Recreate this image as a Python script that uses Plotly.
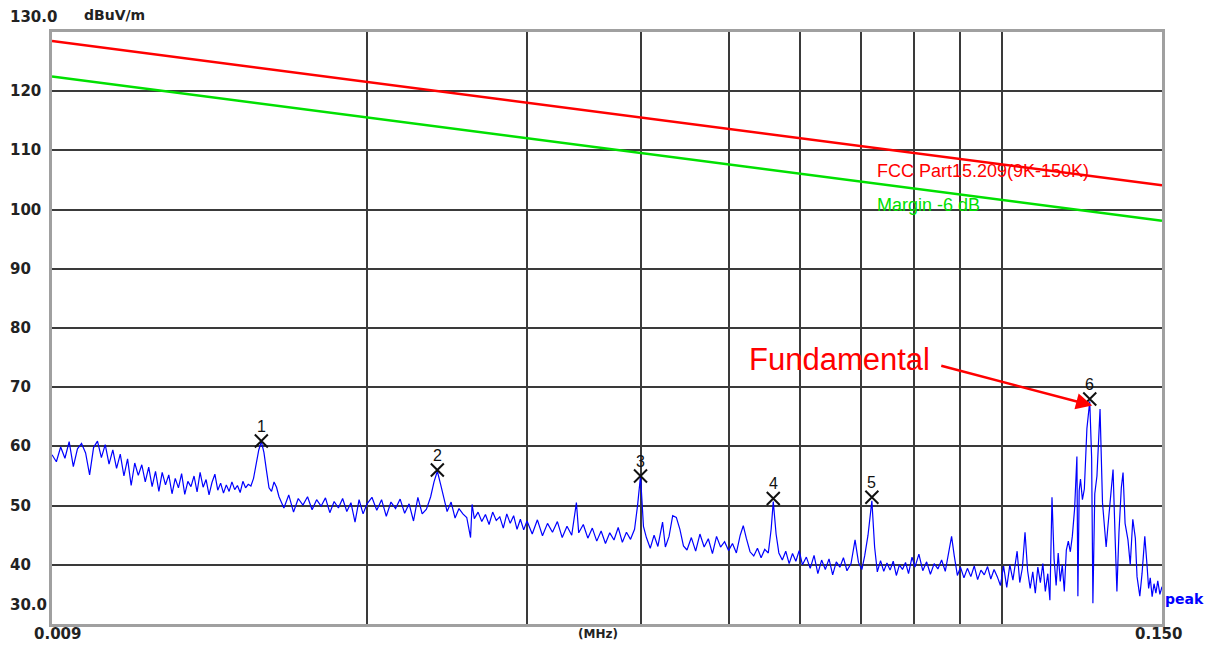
import math
import plotly.graph_objects as go

# ---------------- data ----------------
# limit lines (dBuV/m) at band edges (kHz)
limit_khz = [9.0, 150.0]
fcc_limit = [128.5, 104.1]
margin_limit = [122.5, 98.1]

# peak scan, (kHz, dBuV/m)
scan_low = [(9.0,58.6),(9.1,57.4),(9.2,59.9),(9.3,58.0),(9.4,60.8),(9.5,56.6),(9.6,59.6),(9.7,60.5),(9.8,58.9),(9.9,55.2),
            (10.0,59.8),(10.1,60.9),(10.2,58.1),(10.3,60.3),(10.4,57.0),(10.5,59.4),(10.6,56.3),(10.7,58.7),(10.8,55.0),(10.9,57.9),
            (11.0,53.4),(11.1,57.2),(11.2,55.1),(11.3,56.9),(11.4,54.0),(11.5,56.5),(11.6,53.2),(11.7,55.8),(11.8,52.4),(11.9,55.6),
            (12.0,53.5),(12.1,55.2),(12.2,52.0),(12.3,54.6),(12.4,53.0),(12.5,55.4),(12.6,51.9),(12.7,54.1),(12.8,53.2),(12.9,55.0),
            (13.0,52.3),(13.1,55.6),(13.2,53.1),(13.3,54.4),(13.4,51.8),(13.5,53.9),(13.6,55.3),(13.7,52.6),(13.8,53.8),(13.9,52.1),
            (14.0,53.5),(14.1,52.4),(14.2,54.0),(14.3,52.7),(14.4,53.4),(14.5,52.2),(14.6,54.1),(14.7,53.0),(14.8,53.6),(14.9,53.3),
            (15.0,54.6),(15.1,56.8),(15.2,59.4),(15.3,60.8),(15.4,59.0),(15.5,55.9),(15.6,53.0),(15.7,52.4),(15.8,54.0),(15.9,53.1),
            (16.0,51.5),(16.2,49.6),(16.4,51.8),(16.6,48.9),(16.8,51.2),(17.0,50.1),(17.2,51.5),(17.4,49.3),(17.6,51.0),(17.8,49.9),
            (18.0,51.3),(18.2,48.8),(18.4,50.7),(18.6,49.6),(18.8,51.2),(19.0,49.0),(19.2,50.5),(19.4,47.2),(19.6,51.0),(19.8,48.6)]
scan_mid = [(20.0,50.3),(20.25,51.4),(20.5,49.2),(20.75,51.0),(21.0,48.2),(21.25,50.6),(21.5,49.5),(21.75,51.1),(22.0,48.7),
            (22.25,50.3),(22.5,47.4),(22.75,51.4),(23.0,48.6),(23.25,49.4),(23.5,51.5),(23.7,54.0),(23.9,55.8),(24.1,53.6),
            (24.3,51.2),(24.5,49.0),(24.75,50.6),(25.0,47.9),(25.25,49.5),(25.5,48.6),(25.75,48.0),(26.0,44.6),(26.1,50.2),
            (26.25,47.8),(26.5,48.9),(26.75,47.3),(27.0,48.5),(27.25,46.8),(27.5,48.9),(27.75,47.5),(28.0,48.1),(28.25,46.2),
            (28.5,48.6),(28.75,47.0),(29.0,48.3),(29.25,46.0),(29.5,47.7),(29.75,45.9),(30.0,47.4),(30.4,45.2),(30.8,47.6),
            (31.2,44.9),(31.6,47.0),(32.0,45.5),(32.4,47.3),(32.8,44.6),(33.2,46.5),(33.6,45.0),(34.0,50.5),(34.2,45.4),
            (34.6,46.8),(35.0,44.5),(35.4,46.2),(35.8,44.0),(36.2,45.7),(36.6,43.6),(37.0,45.4),(37.4,44.2),(37.8,46.3),
            (38.2,43.8),(38.6,45.5),(39.0,44.3),(39.4,46.0),(39.7,50.0)]
scan_high = [(40.0,55.0),(40.3,46.5),(40.6,44.6),(41.0,42.8),(41.4,45.0),(41.8,43.1),(42.3,47.2),(42.6,43.0),(43.0,44.8),
             (43.4,48.3),(43.8,48.0),(44.2,46.0),(44.6,43.2),(45.0,42.5),(45.5,44.6),(46.0,42.3),(46.5,45.2),(47.0,43.0),
             (47.5,44.4),(48.0,41.9),(48.5,44.8),(49.0,43.0),(49.5,43.9),(50.0,42.4),(50.5,43.6),(51.0,42.0),(51.5,45.0),
             (51.9,46.6),(52.3,44.5),(52.8,42.2),(53.3,41.5),(53.8,42.8),(54.3,41.2),(54.8,42.6),(55.3,42.0),(55.7,46.0),
             (56.0,50.7),(56.4,45.2),(56.8,42.0),(57.3,40.8),(57.8,42.3),(58.3,40.2),(58.8,41.9),(59.3,40.6),(59.8,42.4),
             (60.3,40.0),(60.9,41.3),(61.5,39.4),(62.1,41.6),(62.7,38.5),(63.3,40.8),(63.9,39.2),(64.5,41.0),(65.1,38.3),
             (65.7,40.5),(66.3,39.6),(66.9,41.2),(67.5,39.0),(68.2,40.2),(68.9,44.2),(69.5,40.4),(70.1,39.2),(70.6,41.5),
             (71.2,45.0),(71.9,50.8),(72.4,43.0),(72.9,38.8),(73.5,40.7),(74.1,38.9),(74.7,40.3),(75.3,39.1),(75.9,40.6),
             (76.5,38.2),(77.1,40.0),(77.7,39.2),(78.3,40.4),(78.9,38.5),(79.6,41.3)]
scan_top = [(80.2,39.6),(81.0,41.8),(81.8,39.0),(82.6,40.5),(83.4,38.4),(84.2,40.2),(85.0,39.3),(85.8,40.8),(86.6,38.9),
            (87.3,42.0),(88.0,44.8),(88.6,41.5),(89.3,38.2),(90.0,39.6),(90.8,37.8),(91.6,39.4),(92.4,38.0),(93.2,39.8),
            (94.0,37.5),(94.8,39.1),(95.6,38.3),(96.4,39.7),(97.2,37.6),(98.0,39.2),(98.8,38.0),(99.6,36.5),(100.4,39.8),
            (101.2,36.2),(102.0,40.0),(102.8,37.4),(103.9,42.3),(104.6,37.0),(105.3,39.5),(106.0,45.5),(106.7,39.0),
            (107.4,36.0),(108.1,38.8),(108.8,35.2),(109.5,39.6),(110.2,37.0),(110.9,40.2),(111.6,35.5),(112.3,38.5),
            (112.9,34.0),(113.5,51.4),(114.1,41.0),(114.7,36.5),(115.3,42.0),(115.9,37.2),(116.5,40.0),(117.1,35.5),
            (117.7,42.5),(118.3,44.0),(118.9,42.2),(119.5,44.8),(120.2,49.5),(120.9,58.3),(121.2,34.7),(121.6,52.5),
            (122.0,54.5),(122.6,51.0),(123.2,52.8),(124.0,63.0),(124.9,67.6),(125.5,58.0),(125.9,33.5),(126.5,52.0),
            (127.2,55.0),(128.2,66.3),(129.0,50.5),(129.6,47.0),(130.2,43.0),(130.7,46.0),(131.5,50.0),(132.5,56.1),
            (133.2,44.5),(133.8,35.5),(134.5,45.5),(135.3,53.0),(135.9,55.6),(136.6,47.0),(137.6,44.2),(138.4,40.0),
            (139.3,47.7),(140.2,44.5),(140.8,38.0),(141.8,34.7),(142.6,38.5),(143.6,44.8),(144.4,40.0),(145.0,36.0),
            (145.6,37.8),(146.3,34.6),(147.0,36.8),(147.7,35.2),(148.4,37.3),(149.2,35.0),(150.0,36.3)]

# marked peaks
peak_labels = ["1", "2", "3", "4", "5", "6"]
peak_khz = [15.3, 23.9, 40.0, 56.0, 71.9, 124.9]
peak_dbuv = [60.9, 56.0, 55.0, 51.2, 51.4, 68.0]

# axis ticks
y_tick_vals = [40, 50, 60, 70, 80, 90, 100, 110, 120]
y_tick_text = ["40", "50", "60", "70", "80", "90", "100", "110", "120"]
x_grid_mhz = [0.02, 0.03, 0.04, 0.05, 0.06, 0.07, 0.08, 0.09, 0.10]
x_range_mhz = [0.009, 0.150]
y_range = [30, 130]

# ---------------- figure ----------------
scan = scan_low + scan_mid + scan_high + scan_top
scan_mhz = [f / 1000 for f, _ in scan]
scan_db = [v for _, v in scan]

fig = go.Figure()
fig.add_trace(go.Scatter(x=[f / 1000 for f in limit_khz], y=fcc_limit, mode="lines",
                         line=dict(color="#ff0000", width=2.5), hoverinfo="skip"))
fig.add_trace(go.Scatter(x=[f / 1000 for f in limit_khz], y=margin_limit, mode="lines",
                         line=dict(color="#00e000", width=2.5), hoverinfo="skip"))
fig.add_trace(go.Scatter(x=scan_mhz, y=scan_db, mode="lines",
                         line=dict(color="#0000ff", width=1.2)))
fig.add_trace(go.Scatter(x=[f / 1000 for f in peak_khz], y=peak_dbuv, mode="markers",
                         marker=dict(symbol="x-thin", size=13, line=dict(color="#111111", width=2))))

grid_col = "#3a3a3a"
frame_col = "#a0a0a0"
fig.update_xaxes(type="log", range=[math.log10(x_range_mhz[0]), math.log10(x_range_mhz[1])],
                 tickvals=x_grid_mhz, showticklabels=False, ticks="",
                 showgrid=True, gridcolor=grid_col, gridwidth=1.5, zeroline=False,
                 showline=True, linecolor=frame_col, linewidth=3, mirror=True)
fig.update_yaxes(range=y_range, tickvals=y_tick_vals, showticklabels=False, ticks="",
                 showgrid=True, gridcolor=grid_col, gridwidth=1.5, zeroline=False,
                 showline=True, linecolor=frame_col, linewidth=3, mirror=True)

lab_font = dict(family="DejaVu Sans", size=15, color="#222222")
ann = []
for lab, f, v in zip(peak_labels, peak_khz, peak_dbuv):
    ann.append(dict(x=math.log10(f / 1000), xref="x", y=v, yref="y", text=lab, showarrow=False,
                    xanchor="center", yanchor="middle", yshift=15,
                    font=dict(family="Liberation Sans, Arial", size=16, color="#111111")))
for v, t in zip(y_tick_vals, y_tick_text):
    ann.append(dict(x=-0.0395, xref="paper", y=v, yref="y", text="<b>%s</b>" % t, showarrow=False,
                    xanchor="left", yanchor="middle", font=lab_font))
ann.append(dict(x=-0.0395, xref="paper", y=1.0253, yref="paper", text="<b>%.1f</b>" % y_range[1],
                showarrow=False, xanchor="left", yanchor="middle", font=lab_font))
ann.append(dict(x=-0.0395, xref="paper", y=0.032, yref="paper", text="<b>%.1f</b>" % y_range[0],
                showarrow=False, xanchor="left", yanchor="middle", font=lab_font))
ann.append(dict(x=0.027, xref="paper", y=1.029, yref="paper", text="<b>dBuV/m</b>",
                showarrow=False, xanchor="left", yanchor="middle",
                font=dict(family="DejaVu Sans", size=14, color="#222222")))
ann.append(dict(x=0.0054, xref="paper", y=-0.017, yref="paper", text="<b>%.3f</b>" % x_range_mhz[0],
                showarrow=False, xanchor="center", yanchor="middle", font=lab_font))
ann.append(dict(x=0.9964, xref="paper", y=-0.017, yref="paper", text="<b>%.3f</b>" % x_range_mhz[1],
                showarrow=False, xanchor="center", yanchor="middle", font=lab_font))
ann.append(dict(x=0.492, xref="paper", y=-0.017, yref="paper", text="<b>(MHz)</b>",
                showarrow=False, xanchor="center", yanchor="middle",
                font=dict(family="DejaVu Sans", size=12, color="#222222")))
ann.append(dict(x=1.001, xref="paper", y=34.3, yref="y", text="<b>peak</b>",
                showarrow=False, xanchor="left", yanchor="middle",
                font=dict(family="DejaVu Sans", size=14, color="#0000ff")))
ann.append(dict(x=math.log10(0.0725), xref="x", y=106.6, yref="y", text="FCC Part15.209(9K-150K)",
                showarrow=False, xanchor="left", yanchor="middle",
                font=dict(family="Liberation Sans, Arial", size=18, color="#ff0000")))
ann.append(dict(x=math.log10(0.0725), xref="x", y=100.7, yref="y", text="Margin -6 dB",
                showarrow=False, xanchor="left", yanchor="middle",
                font=dict(family="Liberation Sans, Arial", size=18, color="#00e000")))
ann.append(dict(x=math.log10(0.0663), xref="x", y=74.7, yref="y", text="Fundamental",
                showarrow=False, xanchor="center", yanchor="middle",
                font=dict(family="Liberation Sans, Arial", size=31, color="#ff0000")))
ann.append(dict(x=math.log10(0.1257), xref="x", y=66.9, yref="y",
                ax=math.log10(0.0854), axref="x", ay=73.7, ayref="y", text="",
                showarrow=True, arrowhead=2, arrowsize=1.3, arrowwidth=2.5, arrowcolor="#ff0000"))

# page body adds an 8px offset; compensate so the plot area sits at the reference position
fig.update_layout(width=1207, height=641, margin=dict(l=44, r=53, t=24, b=25),
                  paper_bgcolor="white", plot_bgcolor="white", showlegend=False,
                  annotations=ann)
fig.write_html("out.html")
